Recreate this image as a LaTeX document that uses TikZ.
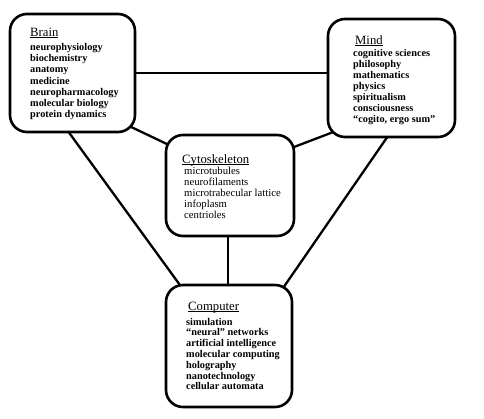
\documentclass[tikz,border=0pt]{standalone}
\usepackage{fontspec}
\setmainfont{Liberation Serif}
\usetikzlibrary{calc,backgrounds}
\newcommand\boxtitle[1]{\underline{\smash{#1}}}
\tikzset{
  frame/.style args={#1/#2}{draw=black, line width=2.6pt, rounded corners=17pt,
    fill=white, inner sep=0pt, minimum width=#1, minimum height=#2},
  link/.style={draw=black, line width=2.3pt},
  ttl/.style={anchor=base west, inner sep=0pt, font=\fontsize{12.7}{14}\selectfont},
  itemsbold/.style={anchor=base west, inner sep=0pt, font=\bfseries\fontsize{10.3}{#1}\selectfont},
  itemsreg/.style={anchor=base west, inner sep=0pt, font=\fontsize{10.7}{#1}\selectfont}
}
\begin{document}
\begin{tikzpicture}[x=1pt,y=-1pt]
\useasboundingbox (0,0) rectangle (484,418);

\node[frame={125pt/118pt}] (brain) at (72.5,73) {};
\node[frame={127pt/118pt}] (mind) at (391.5,78) {};
\node[frame={128pt/101pt}] (cyto) at (230,185.5) {};
\node[frame={126pt/122pt}] (comp) at (229,346) {};

\begin{scope}[on background layer]
\fill[white] (0,0) rectangle (484,418);
\draw[link] (brain.east) -- (brain.east -| mind.west);
\draw[link] ($(brain.south east)+(-16,-11.5)$) -- ($(cyto.north west)+(12,15)$);
\draw[link] ($(mind.south west)+(19,-11)$) -- ($(cyto.north east)+(-11,17)$);
\draw[link] ($(brain.south)+(-9.5,-9)$) -- ($(comp.north west)+(23,12)$);
\draw[link] ($(mind.south)+(2.5,-11)$) -- ($(comp.north east)+(-19,17)$);
\draw[link] ([xshift=-2pt]cyto.south) -- ([xshift=-2pt]cyto.south |- comp.north);
\end{scope}

\node[ttl] (brainT) at (30,36) {\boxtitle{Brain}};
\node[itemsbold=11.1] (brainL) at (30,50.7) {\begin{tabular}[t]{@{}l@{}}
neurophysiology\\ biochemistry\\ anatomy\\ medicine\\ neuropharmacology\\
molecular biology\\ protein dynamics\end{tabular}};

\node[ttl] (mindT) at (355,44) {\boxtitle{Mind}};
\node[itemsbold=11.1] (mindL) at (353,56) {\begin{tabular}[t]{@{}l@{}}
cognitive sciences\\ philosophy\\ mathematics\\ physics\\ spiritualism\\
consciousness\\ ``cogito, ergo sum''\end{tabular}};

\node[ttl] (cytoT) at (182,163) {\boxtitle{Cytoskeleton}};
\node[itemsreg=11] (cytoL) at (184,174) {\begin{tabular}[t]{@{}l@{}}
microtubules\\ neurofilaments\\ microtrabecular lattice\\ infoplasm\\
centrioles\end{tabular}};

\node[ttl] (compT) at (188,310) {\boxtitle{Computer}};
\node[itemsbold=10.8] (compL) at (186,325) {\begin{tabular}[t]{@{}l@{}}
simulation\\ ``neural'' networks\\ artificial intelligence\\ molecular computing\\
holography\\ nanotechnology\\ cellular automata\end{tabular}};
\end{tikzpicture}
\end{document}
